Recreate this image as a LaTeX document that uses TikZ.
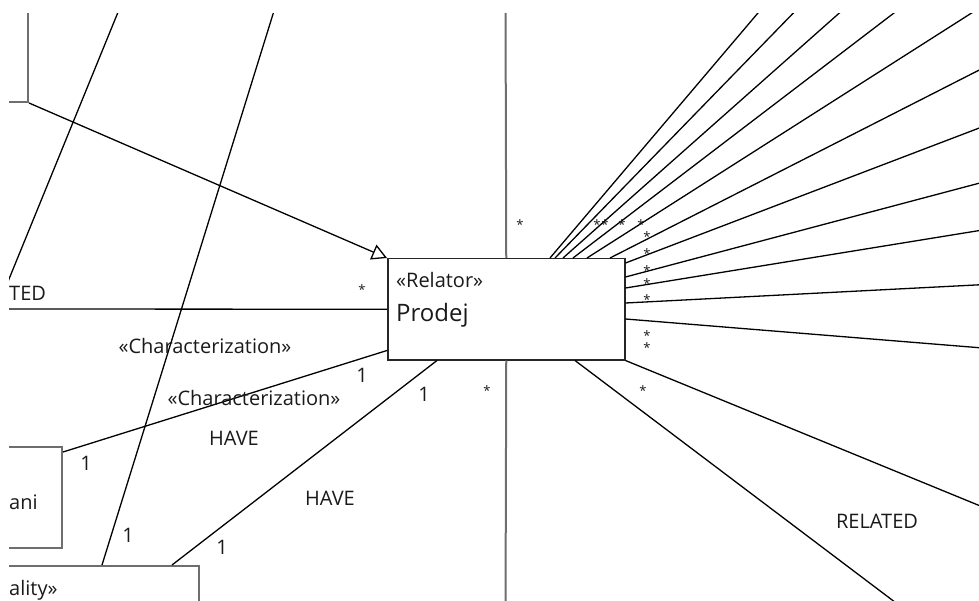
\documentclass[tikz,border=0pt]{standalone}
\usepackage{fontspec}
\setmainfont{Open Sans}
\usetikzlibrary{calc,arrows.meta}
\definecolor{ink}{HTML}{1A1A1A}
\definecolor{rim}{HTML}{6E6E6E}
\begin{document}
\begin{tikzpicture}[x=1pt,y=-1pt,
  conn/.style={draw=black, line width=1.3pt},
  rimline/.style={draw=rim, line width=2pt},
  classbox/.style={draw=black!85, line width=1.5pt, fill=white, rectangle, inner sep=0pt},
  edgebox/.style={draw=rim, line width=2pt, fill=white, rectangle, inner sep=0pt},
  lbl/.style={text=ink, font=\fontsize{20}{24}\selectfont, inner sep=0pt},
  stereo/.style={text=ink, font=\fontsize{20}{24}\selectfont, inner sep=0pt, anchor=base west},
  title/.style={text=ink, font=\fontsize{24}{28}\selectfont, inner sep=0pt, anchor=base west},
  star/.style={text=ink, font=\fontsize{13}{13}\selectfont, inner sep=0pt, anchor=north},
  genarrow/.style={-{Triangle[open, length=15pt, width=16pt]}},
]
\useasboundingbox (0,0) rectangle (979,601);
\begin{scope}
\clip (9,14) rectangle (979,601);

% classes
\node[classbox, anchor=north west, minimum width=237pt, minimum height=101pt] (prodej) at (387,258) {};
\node[stereo] at ($(prodej.north west)+(9,30)$) {«Relator»};
\node[title] at ($(prodej.north west)+(9,64)$) {Prodej};

\node[edgebox, anchor=south east, minimum width=200pt, minimum height=200pt] (general) at (29,103) {};
\node[edgebox, anchor=north east, minimum width=150pt, minimum height=101pt] (ani) at (63,446) {};
\node[lbl, anchor=west] at (9,502) {ani};
\node[edgebox, anchor=north east, minimum width=300pt, minimum height=100pt] (quality) at (200,565) {};
\node[lbl, anchor=west] at (9,590) {ality»};

% free ends of associations leaving the view
\coordinate (aLow) at (-2,306);
\coordinate (aHigh) at (123,0);
\coordinate (bHigh) at (278,-2);
\coordinate (relLeft) at (0,309);
\coordinate (vTop) at (505.5,0);
\coordinate (vBot) at (505.5,615);
\coordinate (f1) at (769,0);
\coordinate (f2) at (806,0);
\coordinate (f3) at (854,0);
\coordinate (f4) at (911,0);
\coordinate (f5) at (992,0);
\coordinate (f6) at (995,62);
\coordinate (f7) at (995,122);
\coordinate (f8) at (995,179);
\coordinate (f9) at (995,228);
\coordinate (f10) at (995,284);
\coordinate (f11) at (995,349);
\coordinate (r1) at (912,615);
\coordinate (r2) at (995,512);

% generalization
\draw[conn, genarrow] (general.south east) -- (prodej.north west);

% associations on the left
\draw[conn] (aLow) -- (aHigh);
\draw[conn] (bHigh) -- ($(quality.north east)+(-98,0)$);
\draw[conn] (relLeft) -- (prodej.west);
\draw[conn] ($(ani.north east)+(0,6)$) -- ($(prodej.south west)+(0,-10)$);
\draw[conn] ($(prodej.south west)+(50,0)$) -- ($(quality.north east)+(-28,0)$);

% vertical association through the relator
\draw[rimline] (prodej.north) -- (vTop);
\draw[rimline] (prodej.south) -- (vBot);

% fan of associations to the right
\draw[conn] ($(prodej.north west)+(163,0)$) -- (f1);
\draw[conn] ($(prodej.north west)+(168,0)$) -- (f2);
\draw[conn] ($(prodej.north west)+(176,0)$) -- (f3);
\draw[conn] ($(prodej.north west)+(186,0)$) -- (f4);
\draw[conn] ($(prodej.north west)+(200,0)$) -- (f5);
\draw[conn] ($(prodej.north west)+(223,0)$) -- (f6);
\draw[conn] ($(prodej.north east)+(0,5)$) -- (f7);
\draw[conn] ($(prodej.north east)+(0,19)$) -- (f8);
\draw[conn] ($(prodej.north east)+(0,30)$) -- (f9);
\draw[conn] ($(prodej.north east)+(0,45)$) -- (f10);
\draw[conn] ($(prodej.north east)+(0,61)$) -- (f11);
\draw[conn] ($(prodej.south west)+(188,0)$) -- (r1);
\draw[conn] (prodej.south east) -- (r2);

% association labels
\node[lbl, anchor=west] at (9,293) {TED};
\node[lbl] at (205,346) {«Characterization»};
\node[lbl] at (254,398) {«Characterization»};
\node[lbl] at (234,438) {HAVE};
\node[lbl] at (330,498) {HAVE};
\node[lbl] at (877,521) {RELATED};

% multiplicities
\node[lbl] at (86,463) {1};
\node[lbl] at (362,375) {1};
\node[lbl] at (424,394) {1};
\node[lbl] at (128,535) {1};
\node[lbl] at (222,547) {1};

\foreach \sx/\sy in {362/287, 520/222, 487/388, 643/388,
    597/222, 605/222, 622/222, 641/222,
    647/234, 647/251, 647/268, 647/281, 647/297, 647/333, 647/345}
  \node[star] at (\sx,\sy-2.5) {*};
\end{scope}
\end{tikzpicture}
\end{document}
